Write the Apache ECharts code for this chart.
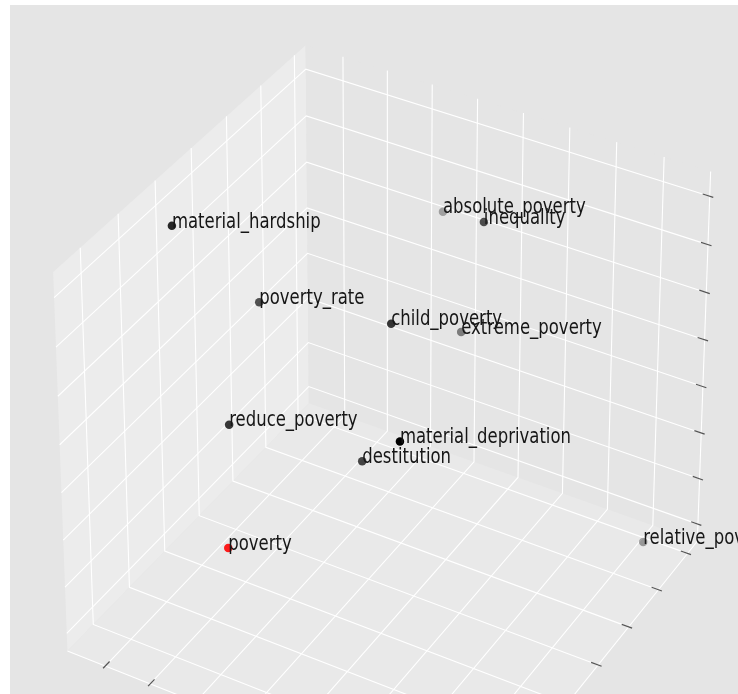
<!DOCTYPE html>
<html>
<head>
<meta charset="utf-8">
<script src="https://cdn.jsdelivr.net/npm/echarts@6/dist/echarts.min.js"></script>
<style>
html, body { margin: 0; padding: 0; background: #ffffff; }
#chart { width: 738px; height: 694px; }
</style>
</head>
<body>
<div id="chart"></div>
<script>
// Nearest neighbours of "poverty" in a word-vector space, three components
const words = ['material_hardship', 'poverty_rate', 'absolute_poverty', 'inequality', 'child_poverty',
  'extreme_poverty', 'reduce_poverty', 'material_deprivation', 'destitution', 'poverty', 'relative_poverty'];
const compX = [-3.08, -1.95, -0.48, 1.39, 0.60, 0.80, -1.62, 1.86, 0.49, -0.80, 4.33];
const compY = [-1.51, -0.56, 2.96, 1.54, -0.14, 1.72, -1.87, -1.63, -0.85, -2.98, 2.47];
const compZ = [3.17, 1.30, 1.23, 2.57, 1.39, -0.05, -0.19, 0.49, -0.99, -1.62, -3.94];
const pointColors = ['#000000', '#000000', '#000000', '#000000', '#000000',
  '#000000', '#000000', '#000000', '#000000', '#ff0000', '#000000'];

const xTicks = [-3, -2, -1, 0, 1, 2, 3, 4];
const yTicks = [-3, -2, -1, 0, 1, 2, 3];
const zTicks = [-4, -3, -2, -1, 0, 1, 2, 3];
const xLimits = [-3.85, 4.97];
const yLimits = [-3.70, 3.34];
const zLimits = [-4.38, 3.51];

// camera: elevation / azimuth in degrees, perspective projection
const ELEV = 30, AZIM = -60, DIST = 10, FOCAL = 1;
const ASPECT = [4, 4, 3];
const aspectNorm = Math.hypot(ASPECT[0], ASPECT[1], ASPECT[2]);
const BOX = ASPECT.map(a => a * 1.8294640721620434 / aspectNorm);

// the 2D value axes receive projected coordinates
const GRID = { left: 0.7, top: 1.2, width: 735.4, height: 688 };
const X_VIEW = [-0.094, 0.0845];
const Y_VIEW = [-0.055, 0.0815];

function dot(a, b) { return a[0] * b[0] + a[1] * b[1] + a[2] * b[2]; }
const basis = (function () {
  const e = ELEV * Math.PI / 180, a = AZIM * Math.PI / 180;
  const w = [Math.cos(e) * Math.cos(a), Math.cos(e) * Math.sin(a), Math.sin(e)];
  const n = Math.hypot(w[1], w[0]);
  const u = [-w[1] / n, w[0] / n, 0];
  const v = [w[1] * u[2] - w[2] * u[1], w[2] * u[0] - w[0] * u[2], w[0] * u[1] - w[1] * u[0]];
  return { u, v, w };
})();
const LIMS = [xLimits, yLimits, zLimits];
function toBox(p) {
  return p.map((val, i) => (val - LIMS[i][0]) / (LIMS[i][1] - LIMS[i][0]) * BOX[i] - BOX[i] / 2);
}
// returns [screen x, screen y, depth]; larger depth = farther away
function project(p) {
  const q = toBox(p);
  const den = DIST - dot(basis.w, q);
  return [FOCAL * dot(basis.u, q) / den, FOCAL * dot(basis.v, q) / den, -DIST / den];
}

const xMin = xLimits[0], xMax = xLimits[1], yMin = yLimits[0], yMax = yLimits[1], zMin = zLimits[0], zMax = zLimits[1];
const panes = [
  { color: '#ececec', pts: [[xMin, yMin, zMin], [xMin, yMax, zMin], [xMin, yMax, zMax], [xMin, yMin, zMax]] },
  { color: '#e5e5e5', pts: [[xMin, yMax, zMin], [xMax, yMax, zMin], [xMax, yMax, zMax], [xMin, yMax, zMax]] },
  { color: '#e9e9e9', pts: [[xMin, yMin, zMin], [xMax, yMin, zMin], [xMax, yMax, zMin], [xMin, yMax, zMin]] }
];
const gridLines = [];
xTicks.forEach(t => gridLines.push([[t, yMax, zMax], [t, yMax, zMin], [t, yMin, zMin]]));
yTicks.forEach(t => gridLines.push([[xMin, t, zMax], [xMin, t, zMin], [xMax, t, zMin]]));
zTicks.forEach(t => gridLines.push([[xMin, yMin, t], [xMin, yMax, t], [xMax, yMax, t]]));
const axisLines = [
  [[xMin, yMin, zMin], [xMax, yMin, zMin]],
  [[xMax, yMin, zMin], [xMax, yMax, zMin]],
  [[xMax, yMax, zMin], [xMax, yMax, zMax]]
];
const TICK_OUT = 0.1 / 12, TICK_IN = 0.2 / 12;
const dX = xMax - xMin, dY = yMax - yMin;
const tickMarks = [];
xTicks.forEach(t => tickMarks.push([[t, yMin - TICK_OUT * dY, zMin], [t, yMin + TICK_IN * dY, zMin]]));
yTicks.forEach(t => tickMarks.push([[xMax + TICK_OUT * dX, t, zMin], [xMax - TICK_IN * dX, t, zMin]]));
zTicks.forEach(t => tickMarks.push([[xMax + TICK_OUT * dX, yMax, t], [xMax - TICK_IN * dX, yMax, t]]));

function lineSeries(name, lines, stroke, width, z) {
  return {
    type: 'custom', name: name, coordinateSystem: 'cartesian2d', z: z, silent: true,
    data: lines.map((_, i) => [i]),
    renderItem: function (params, api) {
      const pts = lines[params.dataIndex].map(p => api.coord(project(p)));
      return { type: 'polyline', shape: { points: pts }, style: { stroke: stroke, lineWidth: width, fill: null } };
    }
  };
}

// projected points, drawn back to front with depth shading
const projected = words.map((w, i) => project([compX[i], compY[i], compZ[i]]));
const depths = projected.map(p => p[2]);
const dMin = Math.min.apply(null, depths), dMax = Math.max.apply(null, depths);
const order = words.map((_, i) => i).sort((a, b) => depths[b] - depths[a]);
const scatterData = order.map(i => ({
  value: [projected[i][0], projected[i][1]],
  itemStyle: { color: pointColors[i], opacity: 1 - 0.7 * (depths[i] - dMin) / (dMax - dMin) }
}));

const FONT_SIZE = 16.5, TEXT_STRETCH = 1.25;

const option = {
  backgroundColor: '#ffffff',
  animation: false,
  grid: GRID,
  xAxis: { type: 'value', min: X_VIEW[0], max: X_VIEW[1], show: false },
  yAxis: { type: 'value', min: Y_VIEW[0], max: Y_VIEW[1], show: false },
  graphic: [
    { type: 'rect', z: -10, shape: { x: 10, y: 5, width: 728, height: 689 }, style: { fill: '#e5e5e5' } }
  ],
  series: [
    {
      type: 'custom', name: 'panes', coordinateSystem: 'cartesian2d', z: 1, silent: true,
      data: panes.map((_, i) => [i]),
      renderItem: function (params, api) {
        const pane = panes[params.dataIndex];
        return { type: 'polygon', shape: { points: pane.pts.map(p => api.coord(project(p))) }, style: { fill: pane.color } };
      }
    },
    lineSeries('grid', gridLines, '#ffffff', 1.1, 2),
    lineSeries('axes', axisLines, '#ffffff', 1.1, 3),
    lineSeries('ticks', tickMarks, '#555555', 1.2, 4),
    {
      type: 'scatter', name: 'words', z: 5, symbol: 'circle', symbolSize: 8.5, silent: true,
      data: scatterData
    },
    {
      type: 'custom', name: 'labels', coordinateSystem: 'cartesian2d', z: 6, silent: true,
      data: words.map((_, i) => [i]),
      renderItem: function (params, api) {
        const i = params.dataIndex;
        const pt = api.coord([projected[i][0], projected[i][1]]);
        return {
          type: 'text', x: pt[0], y: pt[1], scaleY: TEXT_STRETCH,
          style: { text: words[i], x: 0, y: -0.18 * FONT_SIZE, fill: '#161616',
            font: FONT_SIZE + 'px "DejaVu Sans"', textAlign: 'left', textVerticalAlign: 'middle' }
        };
      }
    }
  ]
};

const chart = echarts.init(document.getElementById('chart'));
chart.setOption(option);
</script>
</body>
</html>
